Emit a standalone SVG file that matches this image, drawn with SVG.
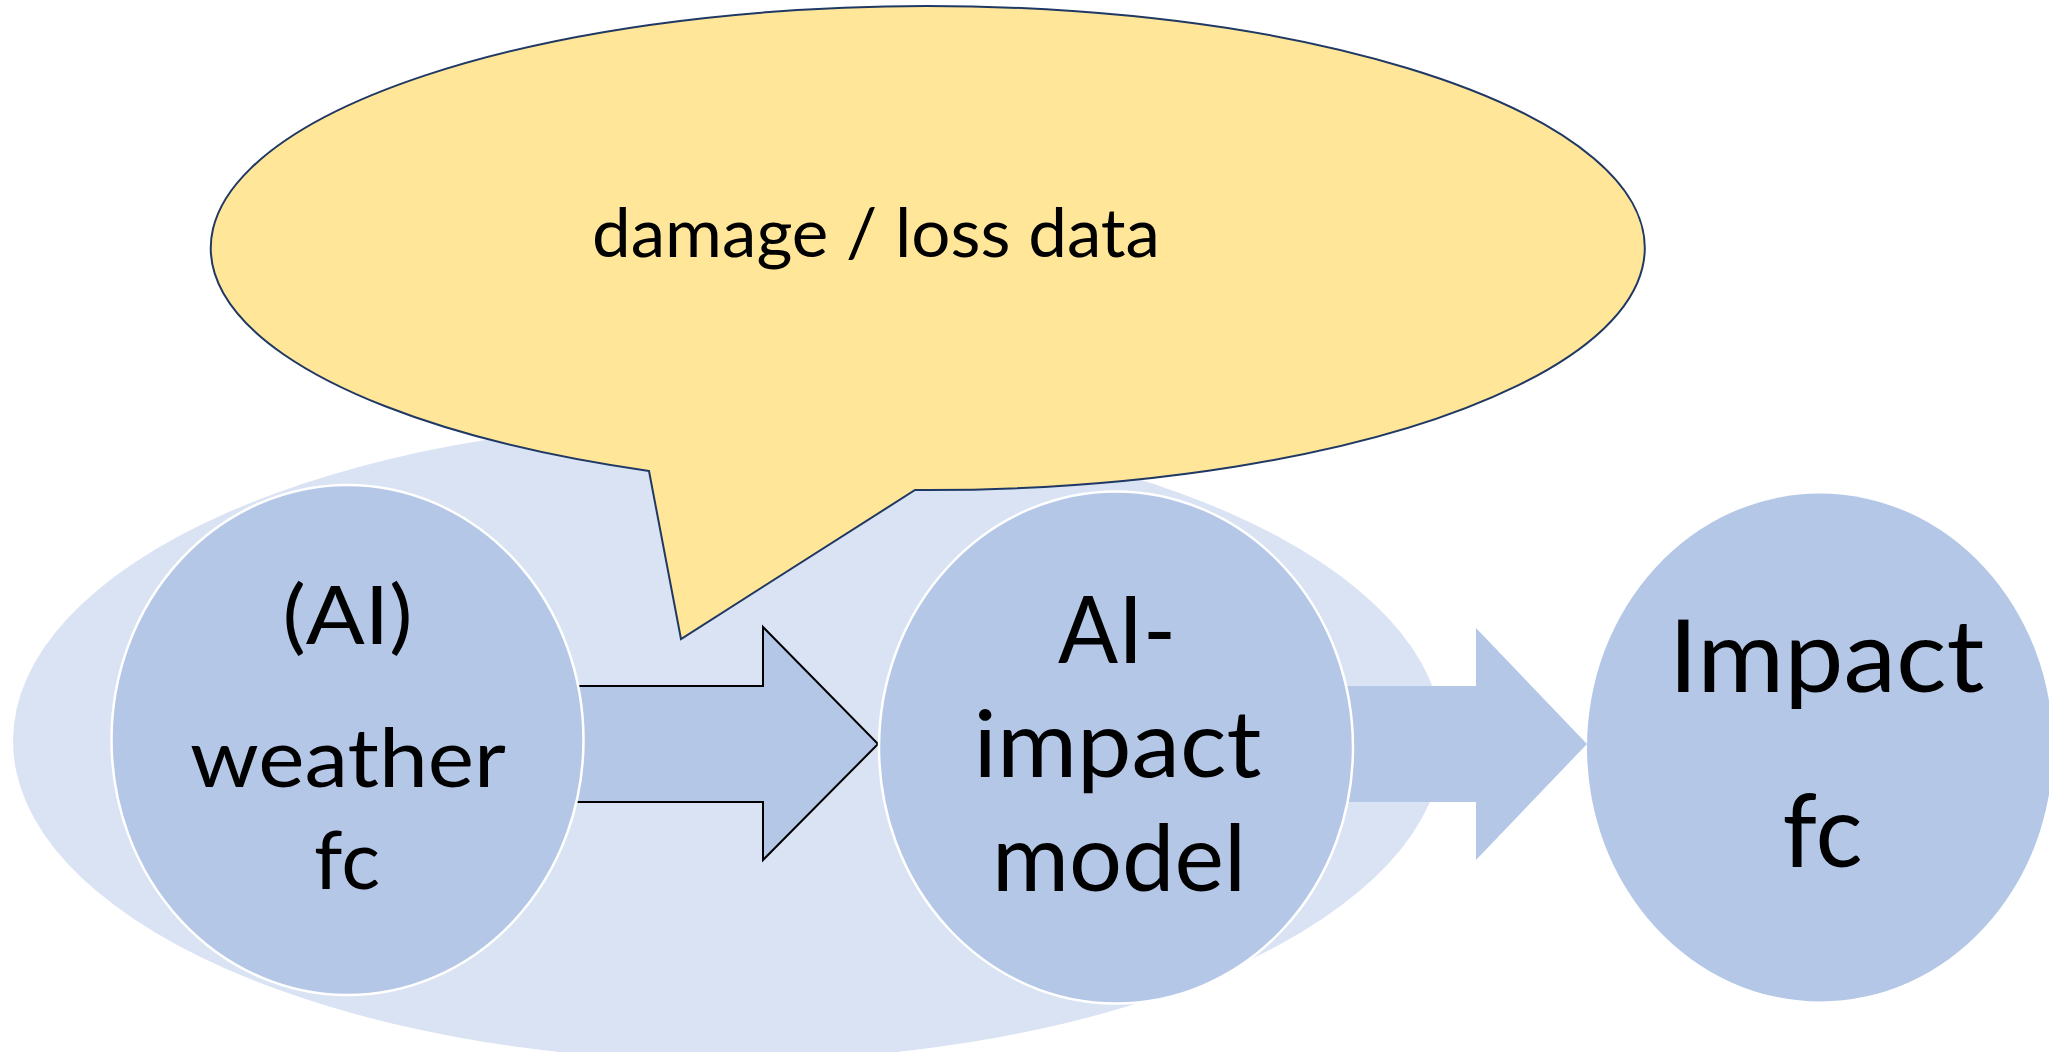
<svg xmlns="http://www.w3.org/2000/svg" width="2049" height="1052" viewBox="0 0 2049 1052">
<style>
.node{fill:#B4C7E7;}
.ring{stroke:#FFFFFF;stroke-width:2.5;}
.lbl{font-family:Lato,"Open Sans","Liberation Sans",sans-serif;fill:#000;text-anchor:middle;}
.arrow{fill:#B4C7E7;}
</style>
<rect width="2049" height="1052" fill="#FFFFFF"/>
<g id="background">
<ellipse cx="728" cy="741" rx="715" ry="320" fill="#DAE3F3"/>
</g>
<g id="connectors">
<polygon class="arrow" points="560,686 763,686 763,627 878,744 763,860 763,802 560,802" stroke="#000" stroke-width="2"/>
<polygon class="arrow" points="1330,686 1476,686 1476,628 1587,744 1476,860 1476,802 1330,802"/>
</g>
<g id="node-weather">
<ellipse class="node ring" cx="347.5" cy="740" rx="236" ry="255"/>
<text class="lbl" font-size="82" x="347.5" y="644" textLength="130" lengthAdjust="spacingAndGlyphs">(AI)</text>
<text class="lbl" font-size="82" x="348" y="787" textLength="316" lengthAdjust="spacingAndGlyphs">weather</text>
<text class="lbl" font-size="82" x="347" y="889" textLength="66" lengthAdjust="spacingAndGlyphs">fc</text>
</g>
<g id="node-model">
<ellipse class="node ring" cx="1116" cy="747.5" rx="237" ry="256"/>
<text class="lbl" font-size="94" x="1117" y="663" textLength="118" lengthAdjust="spacingAndGlyphs">AI-</text>
<text class="lbl" font-size="94" x="1117.5" y="777" textLength="288" lengthAdjust="spacingAndGlyphs">impact</text>
<text class="lbl" font-size="94" x="1119" y="891" textLength="254" lengthAdjust="spacingAndGlyphs">model</text>
</g>
<g id="node-impact">
<ellipse class="node" cx="1820" cy="747.5" rx="233" ry="254"/>
<text class="lbl" font-size="100" x="1826.5" y="692" textLength="316" lengthAdjust="spacingAndGlyphs">Impact</text>
<text class="lbl" font-size="100" x="1822.5" y="867" textLength="80" lengthAdjust="spacingAndGlyphs">fc</text>
</g>
<g id="bubble-data">
<path d="M 649 471 L 681 639 L 915 490 A 717 242 0 1 0 649 471 Z" fill="#FFE699" stroke="#1F3864" stroke-width="2"/>
<text class="lbl" font-size="67" x="876" y="257" textLength="568" lengthAdjust="spacingAndGlyphs">damage / loss data</text>
</g>
</svg>
